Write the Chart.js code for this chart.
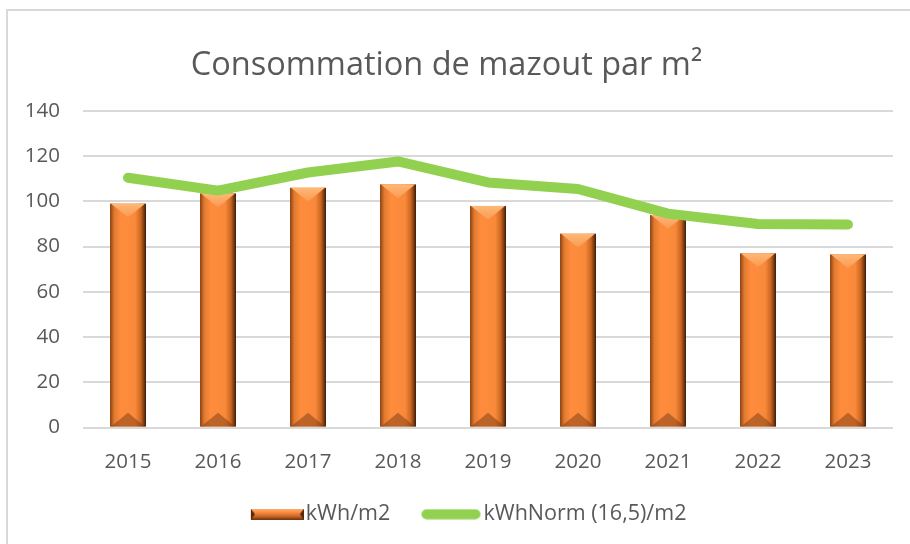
<!DOCTYPE html>
<html>
<head>
<meta charset="utf-8">
<script src="https://cdn.jsdelivr.net/npm/chart.js@4/dist/chart.umd.min.js"></script>
<style>
    html, body { margin: 0; padding: 0; background: #fff; }
    #wrap { position: relative; width: 910px; height: 544px; overflow: hidden; }
    #frame { position: absolute; left: 6px; top: 9px; width: 940px; height: 580px; border: 2px solid #d9d9d9; box-sizing: border-box; }
    canvas { position: absolute; left: 0; top: 0; }
</style>
</head>
<body>
<div id="wrap">
    <div id="frame"></div>
    <canvas id="chart" width="910" height="544"></canvas>
</div>
<script>
(function () {
    var years = ['2015', '2016', '2017', '2018', '2019', '2020', '2021', '2022', '2023'];
    var kwhM2 = [99, 103.5, 106, 107.5, 98, 85.7, 94, 77, 76.5];
    var kwhNormM2 = [110.5, 104.8, 112.8, 117.7, 108.4, 105.5, 94.6, 90, 89.8];
    var yTicks = [0, 20, 40, 60, 80, 100, 120, 140];

    var textColor = '#595959';
    var orange = '#f5873a';
    var green = '#92d050';

    // bevelled look of the bars, drawn over each bar element
    function paintBevel(ctx, x0, x1, top, base) {
        var w = x1 - x0;
        var g = ctx.createLinearGradient(x0, 0, x1, 0);
        g.addColorStop(0, '#8a4214');
        g.addColorStop(0.12, '#e07a30');
        g.addColorStop(0.3, '#ff8c3c');
        g.addColorStop(0.7, '#f98a3b');
        g.addColorStop(0.86, '#c9651f');
        g.addColorStop(1, '#3f1c08');
        ctx.fillStyle = g;
        ctx.fillRect(x0, top, w, base - top);
        var h = Math.min(w * 0.38, (base - top) / 2);
        var tg = ctx.createLinearGradient(0, top, 0, top + h);
        tg.addColorStop(0, '#ffb877');
        tg.addColorStop(1, '#f99a52');
        ctx.fillStyle = tg;
        ctx.beginPath();
        ctx.moveTo(x0 + 1, top);
        ctx.lineTo(x1 - 1, top);
        ctx.lineTo(x0 + w / 2, top + h);
        ctx.closePath();
        ctx.fill();
        ctx.fillStyle = 'rgba(110, 50, 15, 0.45)';
        ctx.beginPath();
        ctx.moveTo(x0 + 1, base);
        ctx.lineTo(x1 - 1, base);
        ctx.lineTo(x0 + w / 2, base - h);
        ctx.closePath();
        ctx.fill();
    }

    var bevelPlugin = {
        id: 'bevel',
        afterDatasetDraw: function (chart, args) {
            if (args.index !== 0) return;
            var ctx = chart.ctx;
            ctx.save();
            args.meta.data.forEach(function (bar) {
                var p = bar.getProps(['x', 'y', 'base', 'width'], true);
                paintBevel(ctx, p.x - p.width / 2, p.x + p.width / 2, p.y, p.base);
            });
            ctx.restore();
        }
    };

    // nudge the legend a bit to the right, like the original
    var legendShift = {
        id: 'legendShift',
        afterLayout: function (chart) {
            if (!chart.legend) return;
            chart.legend.left += 13;
            chart.legend.right += 13;
        }
    };

    // legend icons: 80px canvases, icon drawn at the right so the gap before the text is small
    // and the empty left part spaces the two entries apart
    function barIcon() {
        var c = document.createElement('canvas');
        c.width = 80; c.height = 11;
        var x = c.getContext('2d');
        var g = x.createLinearGradient(0, 0, 0, 11);
        g.addColorStop(0, '#ffb070');
        g.addColorStop(0.35, '#f98a3b');
        g.addColorStop(0.7, '#c8652a');
        g.addColorStop(1, '#6a300c');
        x.fillStyle = g;
        x.fillRect(27, 0, 53, 11);
        x.fillStyle = '#5a2808';
        x.beginPath(); x.moveTo(27, 0); x.lineTo(31, 5.5); x.lineTo(27, 11); x.fill();
        x.beginPath(); x.moveTo(80, 0); x.lineTo(76, 5.5); x.lineTo(80, 11); x.fill();
        return c;
    }
    function lineIcon() {
        var c = document.createElement('canvas');
        c.width = 80; c.height = 11;
        var x = c.getContext('2d');
        x.strokeStyle = green;
        x.lineWidth = 10;
        x.lineCap = 'round';
        x.beginPath(); x.moveTo(25, 5.5); x.lineTo(74, 5.5); x.stroke();
        return c;
    }
    var icons = [barIcon(), lineIcon()];

    new Chart(document.getElementById('chart'), {
        type: 'bar',
        data: {
            labels: years,
            datasets: [
                {
                    type: 'bar',
                    label: 'kWh/m2',
                    data: kwhM2,
                    backgroundColor: orange,
                    categoryPercentage: 1,
                    barPercentage: 0.4,
                    order: 1
                },
                {
                    type: 'line',
                    label: 'kWhNorm (16,5)/m2',
                    data: kwhNormM2,
                    borderColor: green,
                    backgroundColor: green,
                    borderWidth: 10,
                    borderCapStyle: 'round',
                    borderJoinStyle: 'round',
                    pointRadius: 0,
                    tension: 0,
                    order: 0
                }
            ]
        },
        options: {
            responsive: false,
            animation: false,
            devicePixelRatio: 1,
            layout: { padding: { left: 0, right: 17, top: 10, bottom: 9 } },
            plugins: {
                title: {
                    display: true,
                    text: 'Consommation de mazout par m²',
                    color: textColor,
                    font: { family: 'Open Sans', size: 32.5, weight: 'normal' },
                    padding: { top: 36, bottom: 26 }
                },
                legend: {
                    position: 'bottom',
                    labels: {
                        color: textColor,
                        font: { family: 'Open Sans', size: 21.5 },
                        usePointStyle: true,
                        pointStyleWidth: 62.5,
                        padding: 20,
                        sort: function (a, b) { return a.datasetIndex - b.datasetIndex; },
                        generateLabels: function (chart) {
                            return chart.data.datasets.map(function (ds, i) {
                                return {
                                    text: ds.label,
                                    fontColor: textColor,
                                    pointStyle: icons[i],
                                    datasetIndex: i,
                                    hidden: false,
                                    lineWidth: 0
                                };
                            });
                        }
                    }
                },
                tooltip: { enabled: false }
            },
            scales: {
                x: {
                    grid: { display: false, drawTicks: false },
                    border: { display: false },
                    ticks: { color: textColor, font: { family: 'Open Sans', size: 20.5 }, padding: 22 },
                    afterFit: function (scale) { scale.height = 56; }
                },
                y: {
                    min: 0,
                    max: 140,
                    grid: { color: '#d9d9d9', lineWidth: 2, drawTicks: false },
                    border: { display: false },
                    afterBuildTicks: function (scale) {
                        scale.ticks = yTicks.map(function (v) { return { value: v }; });
                    },
                    ticks: { color: textColor, font: { family: 'Open Sans', size: 20.5 }, padding: 23 },
                    afterFit: function (scale) { scale.width = 83; }
                }
            }
        },
        plugins: [bevelPlugin, legendShift]
    });
})();
</script>
</body>
</html>
